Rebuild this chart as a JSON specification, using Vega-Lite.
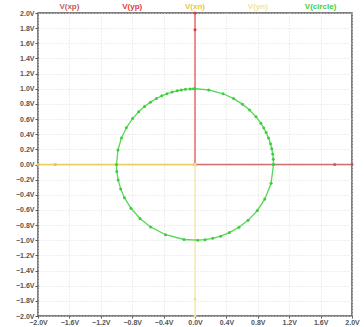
{
  "$schema": "https://vega.github.io/schema/vega-lite/v6.json",
  "width": 314,
  "height": 303,
  "autosize": {"type": "none"},
  "padding": {"left": 38, "top": 13, "right": 12, "bottom": 11},
  "background": "white",
  "config": {
    "view": {"stroke": "#555555", "strokeWidth": 1.5},
    "axis": {
      "domain": false,
      "grid": true,
      "gridColor": "#dddddd",
      "gridDash": [1, 2],
      "gridWidth": 1,
      "tickColor": "#555555",
      "tickSize": 3,
      "labelFont": "Liberation Sans",
      "labelFontSize": 7,
      "labelFontWeight": "bold",
      "labelColor": "#555555",
      "labelOverlap": false,
      "labelFlush": false,
      "title": null
    }
  },
  "datasets": {
    "traces": [
      {"series": "xp", "i": 0, "x": 0, "y": 0},
      {"series": "xp", "i": 1, "x": 1.78, "y": 0},
      {"series": "xp", "i": 2, "x": 2, "y": 0},
      {"series": "yp", "i": 0, "x": 0, "y": 0},
      {"series": "yp", "i": 1, "x": 0, "y": 1.78},
      {"series": "yp", "i": 2, "x": 0, "y": 2},
      {"series": "xn", "i": 0, "x": 0, "y": 0},
      {"series": "xn", "i": 1, "x": -1.78, "y": 0},
      {"series": "xn", "i": 2, "x": -2, "y": 0},
      {"series": "yn", "i": 0, "x": 0, "y": 0},
      {"series": "yn", "i": 1, "x": 0, "y": -1.78},
      {"series": "yn", "i": 2, "x": 0, "y": -2},
      {"series": "circle", "i": 0, "x": 1.0, "y": 0.0},
      {"series": "circle", "i": 1, "x": 0.998, "y": 0.07},
      {"series": "circle", "i": 2, "x": 0.99, "y": 0.139},
      {"series": "circle", "i": 3, "x": 0.978, "y": 0.208},
      {"series": "circle", "i": 4, "x": 0.962, "y": 0.274},
      {"series": "circle", "i": 5, "x": 0.937, "y": 0.349},
      {"series": "circle", "i": 6, "x": 0.906, "y": 0.423},
      {"series": "circle", "i": 7, "x": 0.876, "y": 0.482},
      {"series": "circle", "i": 8, "x": 0.839, "y": 0.545},
      {"series": "circle", "i": 9, "x": 0.777, "y": 0.629},
      {"series": "circle", "i": 10, "x": 0.695, "y": 0.719},
      {"series": "circle", "i": 11, "x": 0.605, "y": 0.797},
      {"series": "circle", "i": 12, "x": 0.492, "y": 0.87},
      {"series": "circle", "i": 13, "x": 0.358, "y": 0.934},
      {"series": "circle", "i": 14, "x": 0.174, "y": 0.985},
      {"series": "circle", "i": 15, "x": 0.0, "y": 1.0},
      {"series": "circle", "i": 16, "x": -0.017, "y": 1.0},
      {"series": "circle", "i": 17, "x": -0.061, "y": 0.998},
      {"series": "circle", "i": 18, "x": -0.122, "y": 0.993},
      {"series": "circle", "i": 19, "x": -0.174, "y": 0.985},
      {"series": "circle", "i": 20, "x": -0.225, "y": 0.974},
      {"series": "circle", "i": 21, "x": -0.292, "y": 0.956},
      {"series": "circle", "i": 22, "x": -0.358, "y": 0.934},
      {"series": "circle", "i": 23, "x": -0.423, "y": 0.906},
      {"series": "circle", "i": 24, "x": -0.491, "y": 0.871},
      {"series": "circle", "i": 25, "x": -0.568, "y": 0.823},
      {"series": "circle", "i": 26, "x": -0.643, "y": 0.766},
      {"series": "circle", "i": 27, "x": -0.717, "y": 0.697},
      {"series": "circle", "i": 28, "x": -0.795, "y": 0.606},
      {"series": "circle", "i": 29, "x": -0.875, "y": 0.485},
      {"series": "circle", "i": 30, "x": -0.937, "y": 0.35},
      {"series": "circle", "i": 31, "x": -0.982, "y": 0.191},
      {"series": "circle", "i": 32, "x": -1.0, "y": 0.0},
      {"series": "circle", "i": 33, "x": -0.996, "y": -0.094},
      {"series": "circle", "i": 34, "x": -0.979, "y": -0.204},
      {"series": "circle", "i": 35, "x": -0.947, "y": -0.322},
      {"series": "circle", "i": 36, "x": -0.899, "y": -0.438},
      {"series": "circle", "i": 37, "x": -0.816, "y": -0.578},
      {"series": "circle", "i": 38, "x": -0.701, "y": -0.713},
      {"series": "circle", "i": 39, "x": -0.566, "y": -0.824},
      {"series": "circle", "i": 40, "x": -0.375, "y": -0.927},
      {"series": "circle", "i": 41, "x": -0.139, "y": -0.99},
      {"series": "circle", "i": 42, "x": 0.035, "y": -0.999},
      {"series": "circle", "i": 43, "x": 0.127, "y": -0.992},
      {"series": "circle", "i": 44, "x": 0.225, "y": -0.974},
      {"series": "circle", "i": 45, "x": 0.326, "y": -0.946},
      {"series": "circle", "i": 46, "x": 0.438, "y": -0.899},
      {"series": "circle", "i": 47, "x": 0.559, "y": -0.829},
      {"series": "circle", "i": 48, "x": 0.676, "y": -0.737},
      {"series": "circle", "i": 49, "x": 0.794, "y": -0.607},
      {"series": "circle", "i": 50, "x": 0.889, "y": -0.457},
      {"series": "circle", "i": 51, "x": 0.969, "y": -0.249},
      {"series": "circle", "i": 52, "x": 1.0, "y": 0.0}
    ],
    "names": [
      {"series": "xp", "label": "V(xp)"},
      {"series": "yp", "label": "V(yp)"},
      {"series": "xn", "label": "V(xn)"},
      {"series": "yn", "label": "V(yn)"},
      {"series": "circle", "label": "V(circle)"}
    ]
  },
  "layer": [
    {
      "data": {"name": "traces"},
      "encoding": {
        "x": {
          "field": "x", "type": "quantitative",
          "scale": {"domain": [-2, 2], "nice": false, "zero": false},
          "axis": {"values": [-2, -1.6, -1.2, -0.8, -0.4, 0, 0.4, 0.8, 1.2, 1.6, 2], "labelExpr": "format(datum.value, '.1f') + 'V'", "tickSize": 2, "labelPadding": 0, "labelOverlap": false, "labelBound": false}
        },
        "y": {
          "field": "y", "type": "quantitative",
          "scale": {"domain": [-2, 2], "nice": false, "zero": false},
          "axis": {"values": [-2, -1.8, -1.6, -1.4, -1.2, -1, -0.8, -0.6, -0.4, -0.2, 0, 0.2, 0.4, 0.6, 0.8, 1, 1.2, 1.4, 1.6, 1.8, 2], "labelExpr": "format(datum.value, '.1f') + 'V'", "labelPadding": 1, "labelOverlap": false, "labelBound": false, "tickCount": 21}
        },
        "color": {
          "field": "series", "type": "nominal",
          "scale": {"domain": ["xp", "yp", "xn", "yn", "circle"], "range": ["#c45a5a", "#e23a3a", "#e8c446", "#f0e49c", "#3ccf3c"]},
          "legend": null
        },
        "order": {"field": "i", "type": "quantitative"}
      },
      "layer": [
        {"mark": {"type": "line", "strokeWidth": 1.3, "opacity": 0.85, "clip": true}},
        {"mark": {"type": "point", "filled": true, "size": 9, "opacity": 1, "clip": false}}
      ]
    },
    {
      "data": {"name": "names"},
      "mark": {"type": "text", "font": "Liberation Sans", "fontSize": 8, "fontWeight": "bold", "baseline": "middle", "dy": -6},
      "encoding": {
        "x": {"field": "series", "type": "nominal", "scale": {"type": "point", "padding": 0.5, "domain": ["xp", "yp", "xn", "yn", "circle"]}, "axis": null},
        "y": {"datum": 2, "type": "quantitative", "axis": {"values": [-2, -1.8, -1.6, -1.4, -1.2, -1, -0.8, -0.6, -0.4, -0.2, 0, 0.2, 0.4, 0.6, 0.8, 1, 1.2, 1.4, 1.6, 1.8, 2], "labelExpr": "format(datum.value, '.1f') + 'V'", "labelPadding": 1, "labelOverlap": false, "labelBound": false, "tickCount": 21}},
        "text": {"field": "label"},
        "color": {"field": "series", "type": "nominal", "legend": null}
      }
    }
  ],
  "resolve": {"scale": {"x": "independent"}}
}
